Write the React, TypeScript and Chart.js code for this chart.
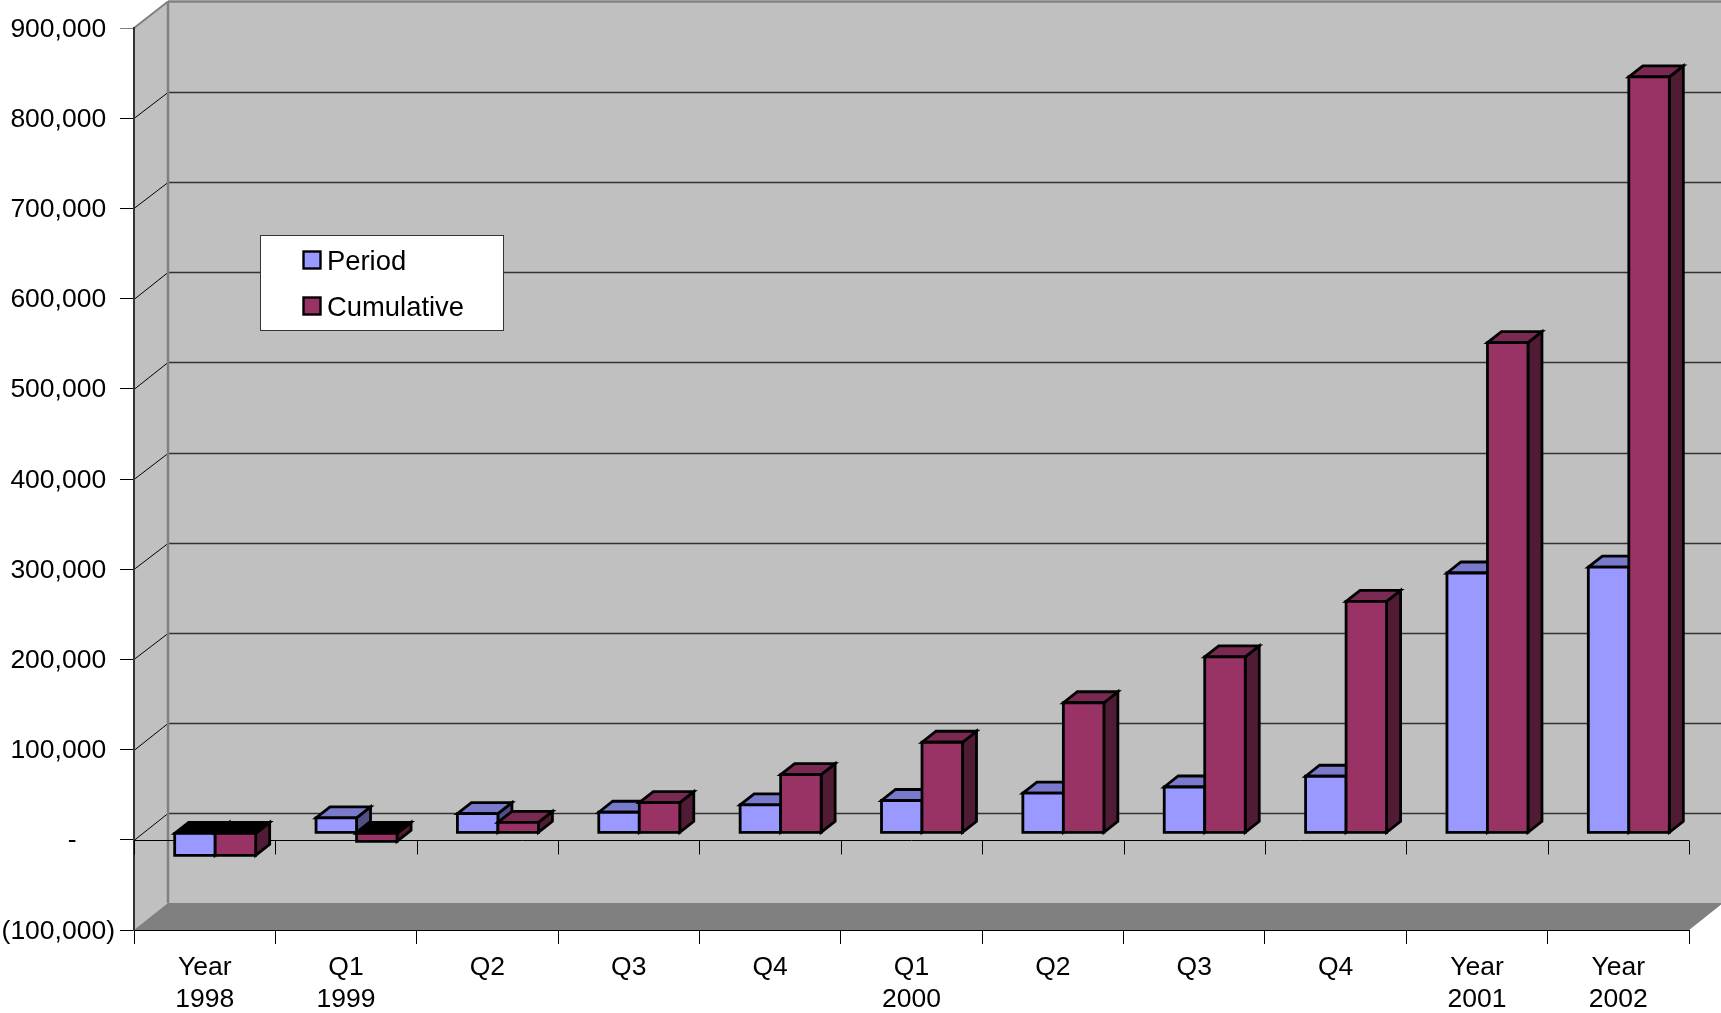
import React, { useEffect, useRef } from "react";
import { Chart, registerables } from "chart.js";

Chart.register(...registerables);

const categories: (string | string[])[] = [
  ["Year", "1998"], ["Q1", "1999"], "Q2", "Q3", "Q4",
  ["Q1", "2000"], "Q2", "Q3", "Q4", ["Year", "2001"], ["Year", "2002"],
];
const periodValues = [-25000, 16500, 21300, 22800, 31000, 35800, 43900, 50800, 62700, 288000, 294500];
const cumulativeValues = [-25000, -9500, 11500, 33500, 64600, 100400, 144200, 195000, 256500, 543500, 838000];
const yTickStep = 100000;

const FAMILY = '"Liberation Sans", Arial, sans-serif';
const FONT = `26.5px ${FAMILY}`;
const LEGEND_FONT = `27.4px ${FAMILY}`;
const WALL = "#C0C0C0";
const FLOOR = "#808080";
const OUTLINE = 2.8;

// Projection of the chart box: how far the back wall sits from the front plane,
// the gap in front of the bars, and the depth of a bar.
const wallDx = 34;
const wallDy = 26.5;
const barOffsetDx = 10.5;
const barOffsetDy = 7;
const barDepthDx = 14;
const barDepthDy = 11;

function crisp(v: number) {
  return Math.round(v) + 0.5;
}

function shade(hex: string, f: number) {
  const n = parseInt(hex.slice(1), 16);
  const c = [(n >> 16) & 255, (n >> 8) & 255, n & 255].map((v) => Math.round(v * f));
  return `rgb(${c[0]},${c[1]},${c[2]})`;
}

function poly(ctx: CanvasRenderingContext2D, pts: number[][], fill: string, stroke?: string, lw = OUTLINE) {
  ctx.beginPath();
  pts.forEach((p, i) => (i ? ctx.lineTo(p[0], p[1]) : ctx.moveTo(p[0], p[1])));
  ctx.closePath();
  ctx.fillStyle = fill;
  ctx.fill();
  if (stroke) {
    ctx.lineWidth = lw;
    ctx.lineJoin = "miter";
    ctx.strokeStyle = stroke;
    ctx.stroke();
  }
}

function line(ctx: CanvasRenderingContext2D, x1: number, y1: number, x2: number, y2: number, color: string, lw: number) {
  ctx.beginPath();
  ctx.moveTo(x1, y1);
  ctx.lineTo(x2, y2);
  ctx.strokeStyle = color;
  ctx.lineWidth = lw;
  ctx.stroke();
}

// Each bar is a box pushed into the depth of the chart
function drawBoxes(chart: any, index: number) {
  const { ctx } = chart;
  const ds = chart.data.datasets[index];
  const color: string = ds.backgroundColor;
  chart.getDatasetMeta(index).data.forEach((bar: any, i: number) => {
    const p = bar.getProps(["x", "y", "base", "width"], true);
    const l = p.x - p.width / 2 + barOffsetDx;
    const r = p.x + p.width / 2 + barOffsetDx;
    const baseY = p.base - barOffsetDy;
    const valueY = p.y - barOffsetDy;
    const top = Math.min(baseY, valueY);
    const bottom = Math.max(baseY, valueY);
    const negative = ds.data[i] < 0;
    const topFace = negative ? "#000" : shade(color, 0.8);
    poly(ctx, [[r, top], [r + barDepthDx, top - barDepthDy], [r + barDepthDx, bottom - barDepthDy], [r, bottom]], shade(color, 0.52), "#000");
    poly(ctx, [[l, top], [l + barDepthDx, top - barDepthDy], [r + barDepthDx, top - barDepthDy], [r, top]], topFace, "#000");
    poly(ctx, [[l, top], [r, top], [r, bottom], [l, bottom]], color, "#000");
  });
}

// Walls, floor and grid of the 3D box, painted before the scales.
const chartBox = {
  id: "chartBox",
  beforeDraw(chart: any) {
    const { ctx, chartArea: a, scales } = chart;
    const y = scales.y;
    const backTop = a.top - wallDy;
    const backBottom = a.bottom - 27;
    const backLeft = a.left + wallDx;
    const backRight = a.right + wallDx;
    ctx.save();
    poly(ctx, [[a.left, a.top], [backLeft, backTop], [backRight, backTop], [backRight, backBottom], [a.right, a.bottom], [a.left, a.bottom]], WALL);
    poly(ctx, [[a.left, a.bottom], [backLeft, backBottom], [backRight, backBottom], [a.right, a.bottom]], FLOOR);
    y.ticks.forEach((t: any, i: number) => {
      const py = y.getPixelForTick(i);
      if (t.value === y.max || t.value === y.min) return;
      line(ctx, a.left, crisp(py), backLeft, crisp(py - wallDy), "#000", 1);
      line(ctx, backLeft, crisp(py - wallDy), backRight, crisp(py - wallDy), "#333", 1.3);
    });
    // Grey frame along the top and back corner of the box
    line(ctx, a.left, a.top, backLeft, backTop, FLOOR, 2);
    line(ctx, backLeft, backTop, backRight, backTop, FLOOR, 2.5);
    line(ctx, backLeft, backTop, backLeft, backBottom, FLOOR, 2.5);
    ctx.restore();
  },
  beforeDatasetsDraw(chart: any) {
    const { ctx, chartArea: a, scales } = chart;
    const zero = crisp(scales.y.getPixelForValue(0));
    ctx.save();
    // Category axis crossing at zero, with its own tick marks
    line(ctx, a.left, zero, a.right, zero, "#000", 1);
    const count = scales.x.ticks.length;
    const step = (a.right - a.left) / count;
    for (let i = 0; i <= count; i++) {
      const px = crisp(a.left + step * i);
      line(ctx, px, zero, px, zero + 14, "#000", 1);
    }
    // Value labels: accounting style, each kept clear of the closing parenthesis column
    ctx.fillStyle = "#000";
    ctx.font = FONT;
    ctx.textBaseline = "alphabetic";
    ctx.textAlign = "right";
    const right = 115;
    const parenWidth = ctx.measureText(")").width;
    const digitWidth = ctx.measureText("0").width;
    scales.y.ticks.forEach((t: any, i: number) => {
      const py = scales.y.getPixelForTick(i) + 8.5;
      let x = right;
      if (t.value > 0) x = right - parenWidth;
      if (t.value === 0) x = right - parenWidth - 2 * digitWidth;
      ctx.fillText(t.label, x, py);
    });
    // Period goes first so that Cumulative sits in front of its side face
    chart.data.datasets.forEach((_: any, i: number) => drawBoxes(chart, i));
    ctx.restore();
  },
  beforeDatasetDraw() {
    return false;
  },
  // Legend panel placed over the back wall
  afterDatasetsDraw(chart: any) {
    const { ctx } = chart;
    ctx.save();
    ctx.fillStyle = "#fff";
    ctx.fillRect(261, 236, 242, 94);
    ctx.strokeStyle = "#333";
    ctx.lineWidth = 1;
    ctx.strokeRect(260.5, 235.5, 243, 95);
    ctx.font = LEGEND_FONT;
    ctx.textAlign = "left";
    ctx.textBaseline = "alphabetic";
    chart.data.datasets.forEach((ds: any, i: number) => {
      const rowTop = 251 + i * 46;
      ctx.fillStyle = ds.backgroundColor;
      ctx.fillRect(303.5, rowTop + 0.5, 17, 17);
      ctx.strokeStyle = "#000";
      ctx.lineWidth = 2.4;
      ctx.strokeRect(303.5, rowTop + 0.5, 17, 17);
      ctx.fillStyle = "#000";
      ctx.fillText(ds.label, 327, rowTop + 18.5);
    });
    ctx.restore();
  },
};

export default function App() {
  const ref = useRef<HTMLCanvasElement>(null);
  useEffect(() => {
    const chart = new Chart(ref.current as HTMLCanvasElement, {
      type: "bar",
      data: {
        labels: categories as any,
        datasets: [
          { label: "Period", data: periodValues, backgroundColor: "#9999FF", categoryPercentage: 0.573, barPercentage: 1 },
          { label: "Cumulative", data: cumulativeValues, backgroundColor: "#993366", categoryPercentage: 0.573, barPercentage: 1 },
        ],
      },
      options: {
        animation: false,
        responsive: false,
        layout: { padding: { top: 28, right: 32, left: 0, bottom: 0 } },
        plugins: { legend: { display: false }, tooltip: { enabled: false } },
        scales: {
          x: {
            grid: { offset: true, drawOnChartArea: false, tickLength: 14, color: "#000" },
            border: { color: "#000", width: 1 },
            ticks: {
              autoSkip: false,
              maxRotation: 0,
              minRotation: 0,
              padding: 7.5,
              color: "#000",
              font: { family: FAMILY, size: 26.5, lineHeight: 1.22 },
            },
            afterFit(scale: any) {
              scale.height = 83;
            },
          },
          y: {
            min: -100000,
            max: 900000,
            grid: {
              drawOnChartArea: false,
              tickLength: 14,
              color: (c: any) => (c.tick && c.tick.value === 900000 ? "#808080" : "#000"),
            },
            border: { color: "#333", width: 2 },
            ticks: {
              display: false,
              stepSize: yTickStep,
              callback: (v: any) => {
                if (v === 0) return "-";
                const s = Math.abs(v).toLocaleString("en-US");
                return v < 0 ? `(${s})` : s;
              },
            },
            afterFit(scale: any) {
              scale.width = 134;
            },
          },
        },
      },
      plugins: [chartBox],
    } as any);
    return () => chart.destroy();
  }, []);
  return (
    <canvas
      ref={ref}
      width={1721}
      height={1013}
      style={{ position: "fixed", left: 0, top: 0, width: 1721, height: 1013, display: "block" }}
    />
  );
}
